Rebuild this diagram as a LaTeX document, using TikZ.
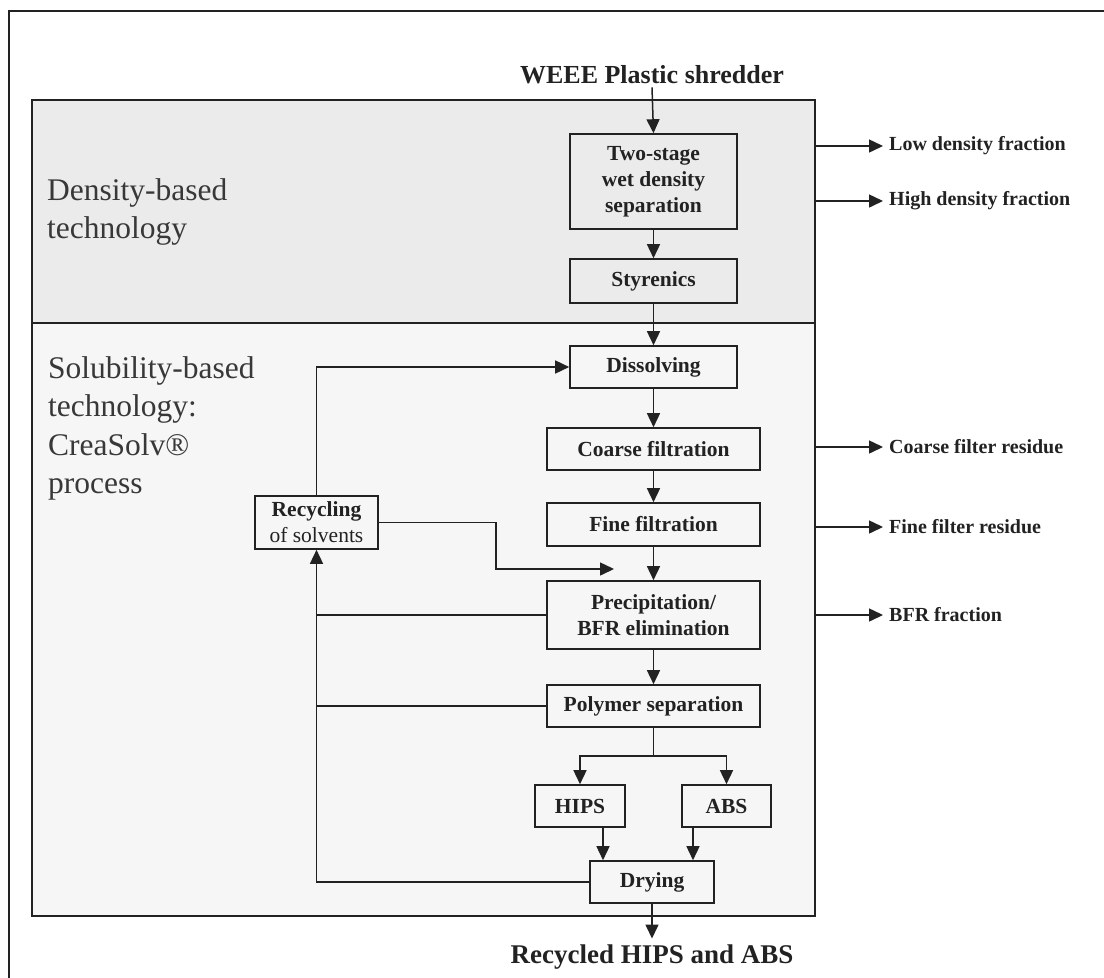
\documentclass[tikz,border=0pt]{standalone}
\usepackage{fontspec}
\setmainfont{Liberation Serif}
\usetikzlibrary{arrows.meta,calc}
\definecolor{upfill}{HTML}{EBEBEB}
\definecolor{lofill}{HTML}{F6F6F6}
\definecolor{ink}{HTML}{222222}
\begin{document}
\begin{tikzpicture}[x=1pt,y=-1pt,
  every node/.style={text=ink},
  proc/.style={draw=ink,line width=1.6pt,inner sep=0pt,align=center,
    font=\bfseries\fontsize{21.5}{26}\selectfont},
  flow/.style={draw=ink,line width=1.5pt,-{Triangle[length=14pt,width=13pt]}},
  plain/.style={draw=ink,line width=1.5pt},
  region/.style={draw=ink,line width=1.6pt,inner sep=0pt},
  outlbl/.style={anchor=west,inner sep=0pt,font=\bfseries\fontsize{20}{24}\selectfont},
  biglbl/.style={anchor=north west,inner sep=0pt,align=left,text=ink!90,
    font=\fontsize{31.5}{38.5}\selectfont}]
\useasboundingbox (0,0) rectangle (1104,978);
\fill[white] (0,0) rectangle (1104,978);
% outer frame (cropped)
\draw[ink,line width=1.4pt] (9,978) -- (9,11) -- (1104,11);
% regions
\node[region,fill=upfill,minimum width=783pt,minimum height=223pt] (dens) at (423.5,211.5) {};
\node[region,fill=lofill,minimum width=783pt,minimum height=593pt] (solu) at (423.5,619.5) {};
% region labels
\node[biglbl] (denslbl) at (47,178) {Density-based\\technology};
\node[biglbl] (sololbl) at (48,356) {Solubility-based\\technology:\\CreaSolv®\\process};
% top / bottom texts
\node[inner sep=0pt,font=\bfseries\fontsize{26}{30}\selectfont] (weee) at (652,75) {WEEE Plastic shredder};
\node[inner sep=0pt,font=\bfseries\fontsize{27}{31}\selectfont] (out) at (652,957) {Recycled HIPS and ABS};
% process boxes
\node[proc,minimum width=167pt,minimum height=95pt] (two) at (653.5,181.5) {Two-stage\\wet density\\separation};
\node[proc,minimum width=167pt,minimum height=44pt] (sty) at (653.5,281) {Styrenics};
\node[proc,minimum width=167pt,minimum height=42pt] (diss) at (653.5,367) {Dissolving};
\node[proc,minimum width=213pt,minimum height=42pt] (coarse) at (653.5,449) {Coarse filtration};
\node[proc,minimum width=213pt,minimum height=43pt] (fine) at (653.5,524.5) {Fine filtration};
\node[proc,minimum width=213pt,minimum height=68pt] (prec) at (653.5,615) {Precipitation/\\BFR elimination};
\node[proc,minimum width=213pt,minimum height=42pt] (poly) at (653.5,706) {Polymer separation};
\node[proc,minimum width=90pt,minimum height=42pt] (hips) at (580,806) {HIPS};
\node[proc,minimum width=89pt,minimum height=42pt] (abs) at (726.5,806) {ABS};
\node[proc,minimum width=124pt,minimum height=42pt] (dry) at (652,882) {Drying};
\node[proc,minimum width=123pt,minimum height=53pt] (rec) at (316.5,522.5) {Recycling\\{\mdseries of solvents}};
% output labels
\node[outlbl] (low) at (889,146) {Low density fraction};
\node[outlbl] (high) at (889,201) {High density fraction};
\node[outlbl] (cres) at (889,447) {Coarse filter residue};
\node[outlbl] (fres) at (889,527) {Fine filter residue};
\node[outlbl] (bfr) at (889,615) {BFR fraction};
% main flow
\draw[flow] (weee.south) ++(0,3) -- (two.north);
\draw[flow] (two) -- (sty);
\draw[flow] (sty) -- (diss);
\draw[flow] (diss) -- (coarse);
\draw[flow] (coarse) -- (fine);
\draw[flow] (fine) -- (prec);
\draw[flow] (prec) -- (poly);
\coordinate (split) at ($(poly.south)+(0,28)$);
\draw[plain] (poly.south) -- (split);
\draw[flow] (split) -| (hips.north);
\draw[flow] (split) -| (abs.north);
\draw[flow] ([xshift=23pt]hips.south) -- ([xshift=23pt]hips.south |- dry.north);
\draw[flow] ([xshift=-33.5pt]abs.south) -- ([xshift=-33.5pt]abs.south |- dry.north);
\draw[flow] (dry.south) -- ($(out.north)+(0,-6)$);
% side outputs
\draw[flow,shorten >=6pt] (dens.east |- low.west) -- (low.west);
\draw[flow,shorten >=6pt] (dens.east |- high.west) -- (high.west);
\draw[flow,shorten >=6pt] (solu.east |- cres.west) -- (cres.west);
\draw[flow,shorten >=6pt] (solu.east |- fres.west) -- (fres.west);
\draw[flow,shorten >=6pt] (solu.east |- bfr.west) -- (bfr.west);
% solvent recycling loop
\draw[flow] (rec.north) |- (diss.west);
\coordinate (bend) at (496,569);
\coordinate (tip) at (614,569);
\draw[flow] (rec.east) -| (bend) -- (tip);
\draw[plain] (prec.west) -- (prec.west -| rec.south);
\draw[plain] (poly.west) -- (poly.west -| rec.south);
\draw[flow] (dry.west) -| (rec.south);
\end{tikzpicture}
\end{document}
